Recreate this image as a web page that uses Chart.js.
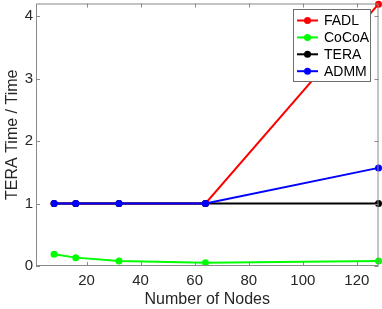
<!DOCTYPE html>
<html>
<head>
<meta charset="utf-8">
<script src="https://cdn.jsdelivr.net/npm/chart.js@4.4.0/dist/chart.umd.min.js"></script>
<style>
  html, body { margin: 0; padding: 0; background: #fff; }
  #wrap { width: 382px; height: 309px; }
</style>
</head>
<body>
<div id="wrap"><canvas id="chart" width="382" height="309"></canvas></div>
<script>
// Data
const nodes = [8, 16, 32, 64, 128];
const fadl  = [1, 1, 1, 1, 4.19];
const cocoa = [0.187, 0.134, 0.08, 0.053, 0.08];
const tera  = [1, 1, 1, 1, 1];
const admm  = [1, 1, 1, 1, 1.57];

const xTicks = [20, 40, 60, 80, 100, 120];
const yTicks = [0, 1, 2, 3, 4];

const seriesNames  = ['FADL', 'CoCoA', 'TERA', 'ADMM'];
const seriesValues = [fadl, cocoa, tera, admm];
const seriesColors = ['#ff0000', '#00ff00', '#000000', '#0000ff'];
const seriesOrder  = [3, 2, 2, 1];   // lower = drawn on top

const FONT = 'Liberation Sans, Helvetica, Arial, sans-serif';
const AXIS_COLOR = '#8a8a8a';
const TEXT_COLOR = '#262626';

const datasets = seriesNames.map((name, i) => ({
    label: name,
    data: nodes.map((n, j) => ({ x: n, y: seriesValues[i][j] })),
    borderColor: seriesColors[i],
    backgroundColor: seriesColors[i],
    borderWidth: 2,
    pointRadius: 3.5,
    pointHoverRadius: 3.5,
    pointBorderWidth: 0,
    order: seriesOrder[i],
    clip: false
}));

// Box around the plot plus MATLAB-style inward ticks
const boxPlugin = {
    id: 'box',
    afterDraw(chart) {
        const { ctx, chartArea: a, scales } = chart;
        ctx.save();
        ctx.strokeStyle = AXIS_COLOR;
        ctx.lineWidth = 1;
        ctx.strokeRect(a.left + 0.5, a.top + 0.5, a.right - a.left - 1, a.bottom - a.top - 1);
        const len = 4;
        ctx.beginPath();
        xTicks.forEach(t => {
            const px = Math.round(scales.x.getPixelForValue(t)) + 0.5;
            ctx.moveTo(px, a.bottom); ctx.lineTo(px, a.bottom - len);
            ctx.moveTo(px, a.top); ctx.lineTo(px, a.top + len);
        });
        yTicks.forEach(t => {
            const py = Math.round(scales.y.getPixelForValue(t)) + 0.5;
            ctx.moveTo(a.left, py); ctx.lineTo(a.left + len, py);
            ctx.moveTo(a.right, py); ctx.lineTo(a.right - len, py);
        });
        ctx.stroke();

        // legend box
        const lx = 293, ly = 9, lw = 77, lh = 72;
        ctx.fillStyle = '#fff';
        ctx.fillRect(lx, ly, lw, lh);
        ctx.strokeStyle = '#6e6e6e';
        ctx.strokeRect(lx + 0.5, ly + 0.5, lw, lh);
        ctx.font = '14px ' + FONT;
        ctx.textBaseline = 'middle';
        seriesNames.forEach((name, i) => {
            const y = 20.5 + i * 16.9;
            ctx.strokeStyle = seriesColors[i];
            ctx.lineWidth = 2;
            ctx.beginPath();
            ctx.moveTo(297, y); ctx.lineTo(318, y);
            ctx.stroke();
            ctx.fillStyle = seriesColors[i];
            ctx.beginPath();
            ctx.arc(307.5, y, 3.5, 0, Math.PI * 2);
            ctx.fill();
            ctx.fillStyle = '#000';
            ctx.fillText(name, 324, y + 1);
        });
        ctx.restore();
    }
};

new Chart(document.getElementById('chart'), {
    type: 'line',
    data: { datasets },
    plugins: [boxPlugin],
    options: {
        responsive: false,
        animation: false,
        layout: { padding: { left: 0, top: 2, right: 2, bottom: 0 } },
        plugins: { legend: { display: false }, tooltip: { enabled: false } },
        scales: {
            x: {
                type: 'linear',
                min: 1.3,
                max: 128,
                afterBuildTicks: s => { s.ticks = xTicks.map(v => ({ value: v })); },
                afterFit: s => { s.height = 43; s.paddingLeft = 0; s.paddingRight = 0; },
                grid: { drawOnChartArea: false, drawTicks: false },
                border: { display: false },
                ticks: { color: TEXT_COLOR, font: { family: FONT, size: 15 }, padding: 6, maxRotation: 0 },
                title: { display: true, text: 'Number of Nodes', color: TEXT_COLOR,
                         font: { family: FONT, size: 16 }, padding: { top: 0, bottom: 0 } }
            },
            y: {
                type: 'linear',
                min: 0,
                max: 4.2,
                afterBuildTicks: s => { s.ticks = yTicks.map(v => ({ value: v })); },
                afterFit: s => { s.width = 36; s.paddingTop = 0; s.paddingBottom = 0; },
                grid: { drawOnChartArea: false, drawTicks: false },
                border: { display: false },
                ticks: { color: TEXT_COLOR, font: { family: FONT, size: 15 }, padding: 3 },
                title: { display: true, text: 'TERA Time / Time', color: TEXT_COLOR,
                         font: { family: FONT, size: 16 }, padding: { top: 3, bottom: 0 } }
            }
        }
    }
});
</script>
</body>
</html>
